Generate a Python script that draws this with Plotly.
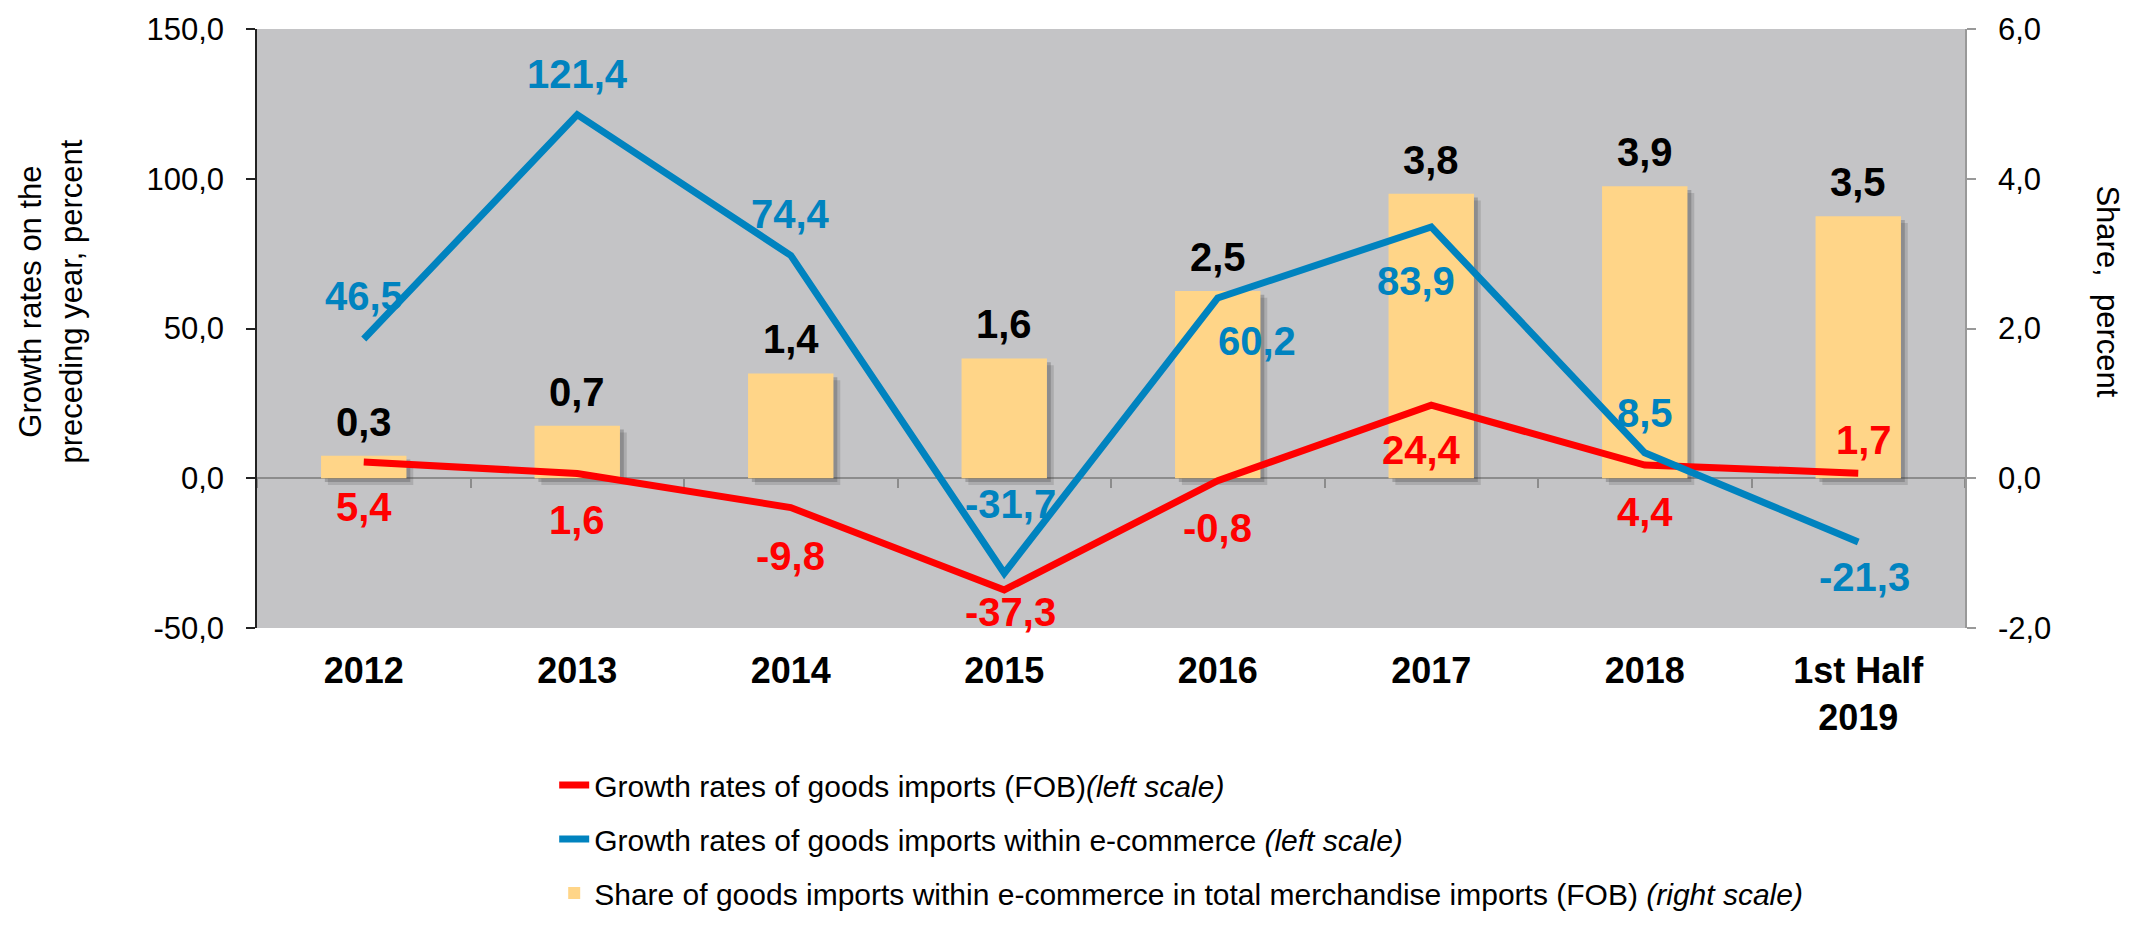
import plotly.graph_objects as go

# ---------------- data ----------------
categories = ["2012", "2013", "2014", "2015", "2016", "2017", "2018", "1st Half<br>2019"]
goods_imports_growth = [5.4, 1.6, -9.8, -37.3, -0.8, 24.4, 4.4, 1.7]        # left scale
ecommerce_growth = [46.5, 121.4, 74.4, -31.7, 60.2, 83.9, 8.5, -21.3]        # left scale
ecommerce_share = [0.3, 0.7, 1.4, 1.6, 2.5, 3.8, 3.9, 3.5]                   # right scale
left_ticks = [-50, 0, 50, 100, 150]
right_ticks = [-2, 0, 2, 4, 6]

names = [
    "Growth rates of goods imports (FOB)<i>(left scale)</i>",
    "Growth rates of goods imports within e-commerce <i>(left scale)</i>",
    "Share of goods imports within e-commerce in total merchandise imports (FOB) <i>(right scale)</i>",
]

# ---------------- styles ----------------
FONT = "Liberation Sans, Arial, sans-serif"
RED = "#FF0000"
BLUE = "#0083BF"
BAR = "#FFD588"
BG = "#C4C4C6"
LABEL_SIZE = 40

# label offsets (px) for the data labels
red_dy = [-45, -47, -48, -22, -47, -45, -47, 33]
red_dx = [0, 0, 0, 6, 0, -10, 0, 6]
blue_dy = [43, 41, 41, 69, -43, -54, 40, -35]
blue_dx = [0, 0, 0, 6, 39, -15, 0, 6]
bar_dy = 34


def fmt(v):
    return f"{v:.1f}".replace(".", ",")


fig = go.Figure()

# lines (left scale) - drawn on the overlaying subplot, so they sit above the bars
fig.add_trace(go.Scatter(
    x=categories, y=goods_imports_growth, mode="lines",
    line=dict(color=RED, width=7),
    name=names[0], legendrank=1, legendgroup="a",
    xaxis="x", yaxis="y2",
))
fig.add_trace(go.Scatter(
    x=categories, y=ecommerce_growth, mode="lines",
    line=dict(color=BLUE, width=7),
    name=names[1], legendrank=2, legendgroup="b",
    xaxis="x", yaxis="y2",
))

# bar shadows
for dx, dy, alpha in [(0.032, -0.09, 0.18), (0.018, -0.05, 0.28)]:
    fig.add_trace(go.Bar(
        x=categories, y=ecommerce_share, base=dy, width=0.4, offset=-0.2 + dx,
        marker=dict(color=f"rgba(60,60,60,{alpha})", line=dict(width=0)),
        xaxis="x", yaxis="y", showlegend=False, hoverinfo="skip", legendgroup="c",
    ))

# bars (right scale)
fig.add_trace(go.Bar(
    x=categories, y=ecommerce_share, width=0.4, offset=-0.2,
    marker=dict(color=BAR, line=dict(width=0)),
    name=names[2], legendrank=3, legendgroup="c",
    xaxis="x", yaxis="y",
))

# dummy trace for the category axis drawn at zero
fig.add_trace(go.Scatter(
    x=categories, y=[None] * len(categories), mode="lines",
    xaxis="x2", yaxis="y", showlegend=False, hoverinfo="skip", legendgroup="c",
))

annotations = []
for i, c in enumerate(categories):
    annotations.append(dict(
        x=i, y=ecommerce_share[i], xref="x", yref="y", text=fmt(ecommerce_share[i]),
        showarrow=False, yshift=bar_dy, xanchor="center", yanchor="middle",
        font=dict(family=FONT, size=LABEL_SIZE, color="black", weight="bold"),
    ))
    annotations.append(dict(
        x=i, y=goods_imports_growth[i], xref="x", yref="y2", text=fmt(goods_imports_growth[i]),
        showarrow=False, yshift=red_dy[i], xshift=red_dx[i], xanchor="center", yanchor="middle",
        font=dict(family=FONT, size=LABEL_SIZE, color=RED, weight="bold"),
    ))
    annotations.append(dict(
        x=i, y=ecommerce_growth[i], xref="x", yref="y2", text=fmt(ecommerce_growth[i]),
        showarrow=False, yshift=blue_dy[i], xshift=blue_dx[i], xanchor="center", yanchor="middle",
        font=dict(family=FONT, size=LABEL_SIZE, color=BLUE, weight="bold"),
    ))

# axis titles
annotations.append(dict(
    x=-0.1206, y=0.545, xref="paper", yref="paper", textangle=-90,
    xanchor="center", yanchor="middle",
    text="Growth rates on the<br>preceding year, percent", showarrow=False,
    font=dict(family=FONT, size=31, color="black"),
))
annotations.append(dict(
    x=1.0837, y=0.562, xref="paper", yref="paper", textangle=90,
    xanchor="center", yanchor="middle",
    text="Share,  percent", showarrow=False,
    font=dict(family=FONT, size=31, color="black"),
))

# the page body adds an 8px margin, so the figure is 16px smaller than the window
fig.update_layout(
    width=2129, height=909,
    margin=dict(l=249, r=172, t=21, b=289, autoexpand=False),
    paper_bgcolor="white", plot_bgcolor=BG,
    separators=", ",
    barmode="overlay",
    font=dict(family=FONT, size=30, color="black"),
    xaxis=dict(
        type="category", categoryorder="array", categoryarray=categories,
        range=[-0.5, len(categories) - 0.5], automargin=False,
        showline=False, ticks="", showgrid=False, zeroline=False,
        tickfont=dict(family=FONT, size=36, color="black", weight="bold"),
        ticklabelstandoff=18, anchor="y", ticklabeloverflow="allow",
    ),
    xaxis2=dict(
        type="category", categoryorder="array", categoryarray=categories,
        range=[-0.5, len(categories) - 0.5], automargin=False,
        overlaying="x", anchor="free", position=0.25, side="bottom",
        showline=True, linecolor="#8C8C8C", linewidth=1.5,
        ticks="outside", tickson="boundaries", ticklen=9, tickcolor="#8C8C8C", tickwidth=1.5,
        showticklabels=False, showgrid=False, zeroline=False, layer="below traces",
    ),
    yaxis=dict(
        side="right", range=[-2, 6], tickvals=right_ticks,
        ticktext=[fmt(v) for v in right_ticks], automargin=False,
        showline=True, linecolor="#999999", linewidth=1.5,
        ticks="outside", ticklen=9, tickcolor="#999999", tickwidth=1.5,
        showgrid=False, zeroline=False, ticklabelstandoff=16, ticklabeloverflow="allow",
        tickfont=dict(family=FONT, size=31, color="black"),
    ),
    yaxis2=dict(
        side="left", overlaying="y", range=[-50, 150], tickvals=left_ticks,
        ticktext=[fmt(v) for v in left_ticks], automargin=False,
        showline=True, linecolor="#222222", linewidth=1.5,
        ticks="outside", ticklen=9, tickcolor="#222222", tickwidth=1.5,
        showgrid=False, zeroline=False, ticklabelstandoff=16, ticklabeloverflow="allow",
        tickfont=dict(family=FONT, size=31, color="black"),
    ),
    legend=dict(
        x=0.174, y=-0.2185, xanchor="left", yanchor="top",
        orientation="v", traceorder="grouped", tracegroupgap=12,
        font=dict(family=FONT, size=30, color="black"),
        bgcolor="rgba(0,0,0,0)",
    ),
    annotations=annotations,
    showlegend=True,
)

fig.write_html("out.html")
